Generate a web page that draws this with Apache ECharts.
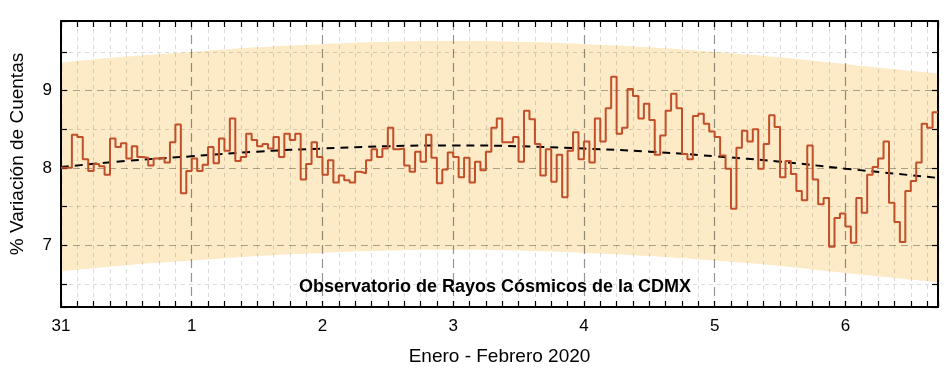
<!DOCTYPE html>
<html>
<head>
<meta charset="utf-8">
<script src="https://cdn.jsdelivr.net/npm/echarts@6/dist/echarts.min.js"></script>
<style>
html,body{margin:0;padding:0;background:#fff;}
#chart{width:948px;height:374px;}
</style>
</head>
<body>
<div id="chart"></div>
<script>
// Hourly % variation of counts, starting 31 Jan 2020 00:00 (one value per hour)
const hourlyValues = [
  8.00, 8.00, 8.43, 8.40, 8.11, 7.96, 8.05, 8.02, 7.91, 8.38,
  8.27, 8.32, 8.12, 8.28, 8.14, 8.13, 8.03, 8.12, 8.13, 8.07,
  8.33, 8.56, 7.67, 7.96, 8.12, 7.96, 8.04, 8.27, 8.06, 8.38,
  8.22, 8.64, 8.09, 8.14, 8.44, 8.36, 8.28, 8.31, 8.25, 8.40,
  8.14, 8.44, 8.36, 8.44, 7.85, 8.05, 8.33, 8.14, 7.91, 8.10,
  7.81, 7.90, 7.84, 7.81, 7.95, 7.93, 8.10, 8.24, 8.14, 8.25,
  8.52, 8.24, 8.25, 8.03, 7.95, 8.21, 8.08, 8.43, 8.13, 7.80,
  7.98, 8.20, 8.14, 7.88, 8.13, 7.81, 8.08, 7.97, 8.21, 8.52,
  8.64, 8.33, 8.33, 8.40, 8.08, 8.74, 8.63, 8.31, 7.90, 8.24,
  7.82, 8.17, 7.62, 8.22, 8.46, 8.11, 8.34, 8.07, 8.64, 8.34,
  8.77, 9.18, 8.44, 8.52, 9.02, 8.93, 8.64, 8.83, 8.62, 8.17,
  8.42, 8.74, 8.96, 8.77, 8.18, 8.11, 8.67, 8.70, 8.57, 8.47,
  8.40, 8.16, 7.99, 7.47, 8.26, 8.48, 8.34, 8.50, 7.99, 8.31,
  8.68, 8.53, 7.88, 8.09, 7.92, 7.70, 7.58, 8.29, 7.85, 7.53,
  7.61, 6.98, 7.35, 7.41, 7.24, 7.03, 7.61, 7.42, 7.91, 8.01,
  8.12, 8.34, 7.55, 7.30, 7.04, 7.70, 7.83, 8.07, 8.57, 8.52,
  8.72
];

// Fitted trend (dashed) and its band, sampled at these day positions
const trendDays   = [0, 0.5, 1, 1.5, 2, 2.5, 3, 3.5, 4, 4.5, 5, 5.5, 6, 6.7083];
const trendValues = [8.01, 8.09, 8.15, 8.21, 8.25, 8.28, 8.29, 8.28, 8.25, 8.21, 8.15, 8.08, 7.99, 7.87];
const bandUpper   = [9.36, 9.44, 9.50, 9.56, 9.60, 9.63, 9.64, 9.63, 9.60, 9.56, 9.50, 9.43, 9.34, 9.22];
const bandLower   = [6.66, 6.74, 6.80, 6.86, 6.90, 6.93, 6.94, 6.93, 6.90, 6.86, 6.80, 6.73, 6.64, 6.52];

// Axis labels
const dayLabels = ['31', '1', '2', '3', '4', '5', '6'];
const yTickLabels = ['7', '8', '9'];
const xAxisTitle = 'Enero - Febrero 2020';
const yAxisTitle = '% Variación de Cuentas';
const caption = 'Observatorio de Rayos Cósmicos de la CDMX';

const FONT = 'Liberation Sans, Arial, sans-serif';
const X_MAX = hourlyValues.length / 24;

const stepData = hourlyValues.map((v, i) => [i / 24, v]);
stepData.push([hourlyValues.length / 24, hourlyValues[hourlyValues.length - 1]]);

const trendData = trendDays.map((d, i) => [d, trendValues[i]]);
const bandUpData = trendDays.map((d, i) => [d, bandUpper[i]]);
const bandLowData = trendDays.map((d, i) => [d, bandLower[i]]);

const isInt = v => Math.abs(v - Math.round(v)) < 1e-6;

const tickStyle = { show: true, inside: true, length: 6, lineStyle: { color: '#000', width: 1.2 } };
const minorTickStyle = { show: true, splitNumber: 8, length: 6, lineStyle: { color: '#000', width: 1.2 } };

const chart = echarts.init(document.getElementById('chart'), null, { renderer: 'canvas' });
chart.setOption({
  animation: false,
  backgroundColor: '#ffffff',
  grid: { left: 59, right: 10, top: 21, bottom: 67, containLabel: false },
  xAxis: [
    {
      type: 'value', min: 0, max: X_MAX, interval: 1, position: 'bottom',
      axisLine: { show: true, onZero: false, lineStyle: { color: '#000', width: 2 } },
      axisTick: tickStyle,
      minorTick: minorTickStyle,
      axisLabel: {
        show: true, margin: 11, color: '#000', fontSize: 17, fontFamily: FONT,
        formatter: v => isInt(v) ? dayLabels[Math.round(v)] : ''
      },
      splitLine: { show: true, lineStyle: { color: 'rgba(0,0,0,0.42)', width: 1.2, type: [9, 5] } },
      minorSplitLine: { show: true, lineStyle: { color: 'rgba(0,0,0,0.14)', width: 1, type: [4, 4] } },
      name: xAxisTitle, nameLocation: 'middle', nameGap: 40,
      nameTextStyle: { color: '#000', fontSize: 19, fontFamily: FONT }
    },
    {
      type: 'value', min: 0, max: X_MAX, interval: 1, position: 'top',
      axisLine: { show: true, onZero: false, lineStyle: { color: '#000', width: 2 } },
      axisTick: tickStyle,
      minorTick: minorTickStyle,
      axisLabel: { show: false },
      splitLine: { show: false }
    }
  ],
  yAxis: [
    {
      type: 'value', min: 6.2, max: 9.9, splitNumber: 4, position: 'left',
      axisLine: { show: true, onZero: false, lineStyle: { color: '#000', width: 2 } },
      axisTick: tickStyle,
      minorTick: { show: true, splitNumber: 2, length: 6, lineStyle: { color: '#000', width: 1.2 } },
      axisLabel: {
        show: true, margin: 9, color: '#000', fontSize: 17, fontFamily: FONT,
        formatter: v => (isInt(v) && yTickLabels.includes(String(Math.round(v)))) ? String(Math.round(v)) : ''
      },
      splitLine: { show: true, lineStyle: { color: 'rgba(0,0,0,0.32)', width: 1.2, type: [7, 5] } },
      minorSplitLine: { show: true, lineStyle: { color: 'rgba(0,0,0,0.14)', width: 1, type: [4, 4] } },
      name: yAxisTitle, nameLocation: 'middle', nameGap: 34,
      nameTextStyle: { color: '#000', fontSize: 19, fontFamily: FONT, padding: [0, 0, 0, 20] }
    },
    {
      type: 'value', min: 6.2, max: 9.9, splitNumber: 4, position: 'right',
      axisLine: { show: true, onZero: false, lineStyle: { color: '#000', width: 2 } },
      axisTick: tickStyle,
      minorTick: { show: true, splitNumber: 2, length: 6, lineStyle: { color: '#000', width: 1.2 } },
      axisLabel: { show: false },
      splitLine: { show: false }
    }
  ],
  graphic: [
    {
      type: 'text', left: 494 - 195, top: 278, z: 100,
      style: { text: caption, fill: '#000', font: 'bold 18px ' + FONT }
    }
  ],
  series: [
    {
      name: 'bandUpper', type: 'line', xAxisIndex: 0, yAxisIndex: 0,
      data: bandUpData, smooth: true, showSymbol: false, z: -3,
      lineStyle: { opacity: 0 }, areaStyle: { color: '#fdeac6', opacity: 1, origin: 'start' }, silent: true
    },
    {
      name: 'bandLower', type: 'line', xAxisIndex: 0, yAxisIndex: 0,
      data: bandLowData, smooth: true, showSymbol: false, z: -2,
      lineStyle: { opacity: 0 }, areaStyle: { color: '#ffffff', opacity: 1, origin: 'start' }, silent: true
    },
    {
      name: 'trend', type: 'line', xAxisIndex: 0, yAxisIndex: 0,
      data: trendData, smooth: true, showSymbol: false, z: 3,
      lineStyle: { color: '#000', width: 2, type: [8, 6] }
    },
    {
      name: 'counts', type: 'line', step: 'end', xAxisIndex: 0, yAxisIndex: 0,
      data: stepData, showSymbol: false, z: 4,
      lineStyle: { color: '#c14f29', width: 2 }
    }
  ]
});
</script>
</body>
</html>
